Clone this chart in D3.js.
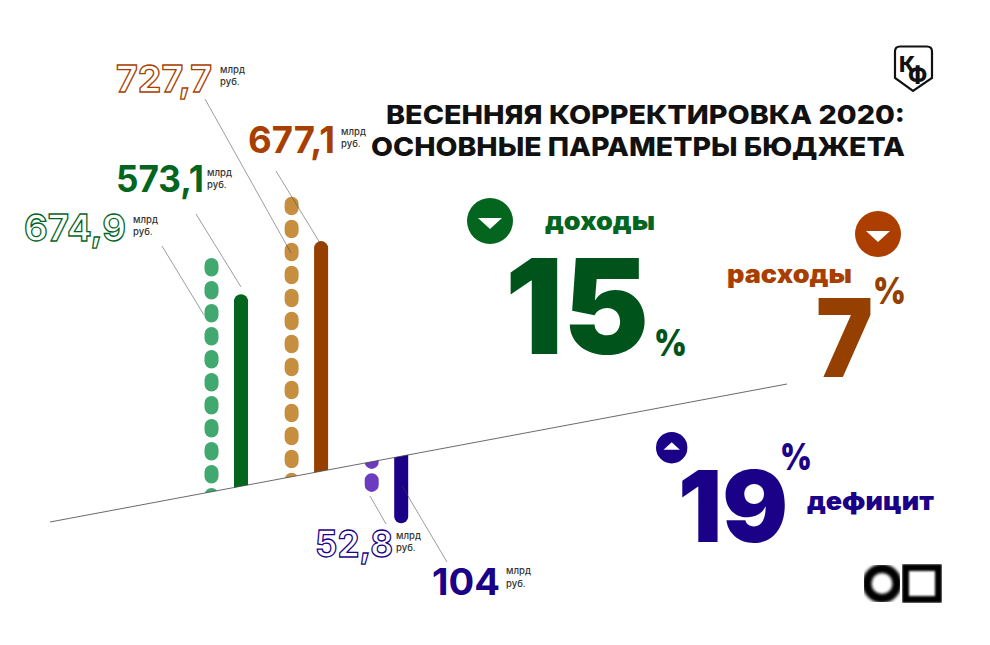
<!DOCTYPE html>
<html>
<head>
<meta charset="utf-8">
<script src="https://cdn.jsdelivr.net/npm/d3@7"></script>
<style>
  body { margin: 0; background: #fff; }
  text { font-family: Inter, "Noto Sans", sans-serif; }
</style>
</head>
<body>
<div id="chart-container"></div>
<script>
// Chart data
const groups = ["revenue", "spending", "deficit"];
const versions = ["plan", "correction"];
const valueLabels = ["674,9", "573,1", "727,7", "677,1", "52,8", "104"];
// The bars in the picture are not drawn to their labels, so lengths are read off the picture (billion rub.)
const drawnLengths = [698, 573, 836, 687, 90, 200];
const percentLabels = ["15", "7", "19"];
const groupNames = ["доходы", "расходы", "дефицит"];
const titleLines = ["ВЕСЕННЯЯ КОРРЕКТИРОВКА 2020:", "ОСНОВНЫЕ ПАРАМЕТРЫ БЮДЖЕТА"];

const width = 990, height = 645;
const svg = d3.select("#chart-container").append("svg")
    .attr("width", width)
    .attr("height", height)
    .style("display", "block");

// Scales
const xGroup = d3.scalePoint().domain(groups).range([211.5, 371.7]);
const xVersion = d3.scalePoint().domain(versions).range([0, 29.5]);
const length = d3.scaleLinear().domain([0, 1000]).range([0, 335]);
const baseline = d3.scaleLinear().domain([50, 787]).range([522, 384]);

const bars = valueLabels.map((label, i) => ({
    label,
    group: groups[Math.floor(i / 2)],
    version: versions[i % 2],
    value: drawnLengths[i]
}));

const colors = {
    revenue: { plan: "#41a96f", correction: "#04651f" },
    spending: { plan: "#c68f3f", correction: "#954000" },
    deficit: { plan: "#6b3cc0", correction: "#1b0088" }
};

// Bars are cut by the tilted line, one clip above it and one below
const defs = svg.append("defs");
defs.append("clipPath").attr("id", "above").append("path")
    .attr("d", d3.line()([[0, baseline(0)], [width, baseline(width)], [width, 0], [0, 0]]));
defs.append("clipPath").attr("id", "below").append("path")
    .attr("d", d3.line()([[0, baseline(0)], [width, baseline(width)], [width, height], [0, height]]));
defs.append("filter").attr("id", "soft").append("feGaussianBlur").attr("stdDeviation", 1.5);
defs.append("filter").attr("id", "softer").append("feGaussianBlur").attr("stdDeviation", 0.8);

svg.append("g").selectAll("line")
    .data(bars)
    .enter()
    .append("line")
    .attr("clip-path", d => d.group === "deficit" ? "url(#below)" : "url(#above)")
    .each(function (d) {
        const x = xGroup(d.group) + xVersion(d.version);
        const base = baseline(x);
        const down = d.group === "deficit";
        const tip = down ? base + length(d.value) : base - length(d.value);
        // start from the far end so the dashes line up with it
        d3.select(this)
            .attr("x1", x).attr("x2", x)
            .attr("y1", down ? tip - 7 : tip + 7)
            .attr("y2", down ? base - 12 : base + 12);
    })
    .attr("stroke", d => colors[d.group][d.version])
    .attr("stroke-width", 14)
    .attr("stroke-linecap", "round")
    .attr("stroke-dasharray", d => d.version === "plan" ? "4.6 18.4" : null);

// Tilted line
svg.append("line")
    .attr("x1", 50).attr("y1", baseline(50))
    .attr("x2", 787).attr("y2", baseline(787))
    .attr("stroke", "#444")
    .attr("stroke-width", 0.8);

// Leader lines from the labels to the bars
const leaders = [
    [162, 246, 204, 315], [196, 214, 241, 287], [205, 99, 291, 253],
    [276, 171, 320, 243], [370, 496, 386, 524], [402, 486, 447, 562]
];
svg.append("g").selectAll("line")
    .data(leaders)
    .enter()
    .append("line")
    .attr("x1", d => d[0]).attr("y1", d => d[1])
    .attr("x2", d => d[2]).attr("y2", d => d[3])
    .attr("stroke", "#444")
    .attr("stroke-opacity", 0.75)
    .attr("stroke-width", 0.7);

// Value labels, outlined for the plan bars
const labelPlaces = [
    { x: 24, w: 102, y: 241, ux: 133, u1: 223, u2: 235 },
    { x: 116, w: 88, y: 192, ux: 207, u1: 176, u2: 188 },
    { x: 116, w: 96, y: 92, ux: 220, u1: 73, u2: 85 },
    { x: 248, w: 87, y: 153, ux: 341, u1: 135, u2: 147 },
    { x: 315, w: 78, y: 557, ux: 396, u1: 539, u2: 551 },
    { x: 432, w: 68, y: 595, ux: 506, u1: 574, u2: 587 }
];
const labelColors = { revenue: "#04651f", spending: "#a83f00", deficit: "#1b0088" };

const labels = svg.append("g").selectAll("g")
    .data(bars)
    .enter()
    .append("g");

labels.append("text")
    .attr("x", (d, i) => labelPlaces[i].x)
    .attr("y", (d, i) => labelPlaces[i].y)
    .attr("textLength", (d, i) => labelPlaces[i].w)
    .attr("lengthAdjust", "spacingAndGlyphs")
    .attr("font-size", 37)
    .attr("font-weight", 700)
    .attr("fill", d => d.version === "plan" ? "#fff" : labelColors[d.group])
    .attr("stroke", d => d.version === "plan" ? labelColors[d.group] : "none")
    .attr("stroke-width", 1.3)
    .text(d => d.label);

labels.append("text")
    .attr("x", (d, i) => labelPlaces[i].ux)
    .attr("y", (d, i) => labelPlaces[i].u1)
    .attr("font-size", 9.5)
    .attr("font-weight", 500)
    .attr("fill", "#333")
    .text("млрд");

labels.append("text")
    .attr("x", (d, i) => labelPlaces[i].ux)
    .attr("y", (d, i) => labelPlaces[i].u2)
    .attr("font-size", 9.5)
    .attr("font-weight", 500)
    .attr("fill", "#333")
    .text("руб.");

// Title
svg.append("g").selectAll("text")
    .data(titleLines)
    .enter()
    .append("text")
    .attr("x", (d, i) => i === 0 ? 386 : 371)
    .attr("y", (d, i) => i === 0 ? 124 : 156)
    .attr("textLength", (d, i) => i === 0 ? 519 : 534)
    .attr("lengthAdjust", "spacingAndGlyphs")
    .attr("font-size", 26)
    .attr("font-weight", 800)
    .attr("fill", "#111")
    .text(d => d);

// Percent blocks
const blocks = [
    { color: "#00531a", num: [505, 354, 144, 132], pct: [654, 356, 33, 37], name: [545, 230, 110, 25], nameColor: "#04651f", mark: [490, 221, 23, 1] },
    { color: "#954000", num: [816, 377, 57, 108], pct: [873, 304, 33, 37], name: [727, 283, 125, 25], nameColor: "#a83f00", mark: [878, 234, 23, 1] },
    { color: "#1b0088", num: [678, 542, 110, 99], pct: [780, 470, 32, 37], name: [807, 510, 127, 25], nameColor: "#1b0088", mark: [671.7, 447.7, 15.7, -1] }
];

const block = svg.append("g").selectAll("g")
    .data(blocks)
    .enter()
    .append("g");

block.append("text")
    .attr("x", d => d.num[0])
    .attr("y", d => d.num[1])
    .attr("textLength", d => d.num[2])
    .attr("lengthAdjust", "spacingAndGlyphs")
    .attr("font-size", d => d.num[3])
    .attr("font-weight", 900)
    .attr("fill", d => d.color)
    .text((d, i) => percentLabels[i]);

block.append("text")
    .attr("x", d => d.pct[0])
    .attr("y", d => d.pct[1])
    .attr("textLength", d => d.pct[2])
    .attr("lengthAdjust", "spacingAndGlyphs")
    .attr("font-size", d => d.pct[3])
    .attr("font-weight", 900)
    .attr("fill", d => d.color)
    .text("%");

block.append("text")
    .attr("x", d => d.name[0])
    .attr("y", d => d.name[1])
    .attr("textLength", d => d.name[2])
    .attr("lengthAdjust", "spacingAndGlyphs")
    .attr("font-size", d => d.name[3])
    .attr("font-weight", 900)
    .attr("fill", d => d.nameColor)
    .text((d, i) => groupNames[i]);

block.append("circle")
    .attr("cx", d => d.mark[0])
    .attr("cy", d => d.mark[1])
    .attr("r", d => d.mark[2])
    .attr("fill", d => d.color === "#00531a" ? "#04651f" : d.color === "#954000" ? "#ac3f00" : d.color);

block.append("path")
    .attr("transform", d => `translate(${d.mark[0]},${d.mark[1]}) scale(${d.mark[2] / 23},${d.mark[3] * d.mark[2] / 23})`)
    .attr("d", "M-12,-3H12L0,8Z")
    .attr("fill", "#fff");

// KF badge
const badge = svg.append("g");
badge.append("path")
    .attr("d", "M900,46.5H927Q932,46.5 932,51.5V78L913,91L895,78V51.5Q895,46.5 900,46.5Z")
    .attr("fill", "#fff")
    .attr("stroke", "#111")
    .attr("stroke-width", 2.2);
badge.append("text")
    .attr("x", 899).attr("y", 72)
    .attr("font-size", 22).attr("font-weight", 800).attr("fill", "#111")
    .text("К");
badge.append("text")
    .attr("x", 908).attr("y", 83)
    .attr("font-size", 23).attr("font-weight", 800).attr("fill", "#111")
    .text("Ф");

// Blurred logo, bottom right
svg.append("circle")
    .attr("filter", "url(#soft)")
    .attr("cx", 882).attr("cy", 583.5).attr("r", 15)
    .attr("fill", "none").attr("stroke", "#000").attr("stroke-width", 9);
svg.append("rect")
    .attr("filter", "url(#softer)")
    .attr("x", 905.5).attr("y", 567.5).attr("width", 33).attr("height", 32)
    .attr("fill", "none").attr("stroke", "#000").attr("stroke-width", 7);
</script>
</body>
</html>
